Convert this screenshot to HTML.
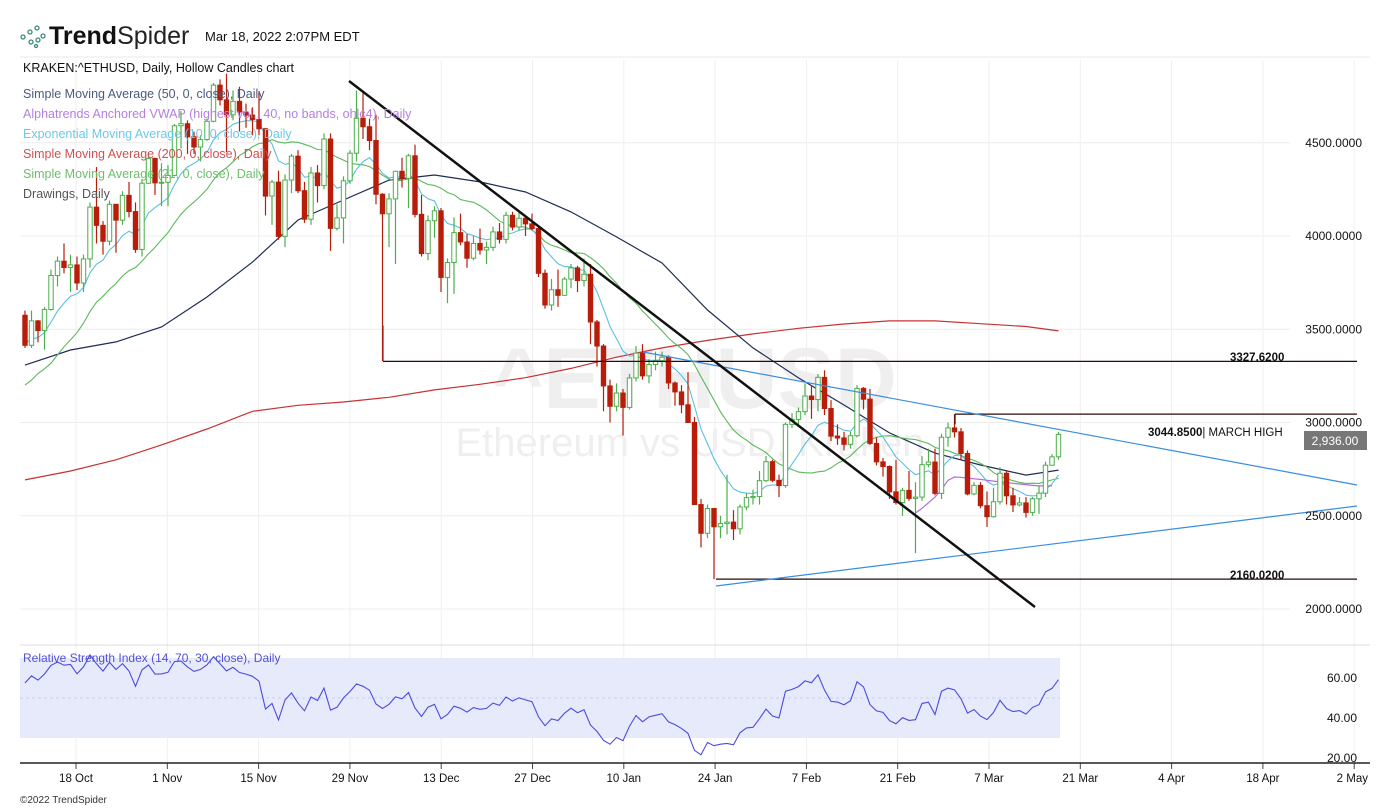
<!DOCTYPE html>
<html><head><meta charset="utf-8"><style>
body{margin:0;background:#fff;}
svg{display:block;font-family:"Liberation Sans",sans-serif;}
</style></head><body>
<svg id="chart" width="1387" height="809" viewBox="0 0 1387 809">
<g id="grid"></g>
<g>
<text x="695" y="408" font-size="86" font-weight="bold" fill="#efefef" text-anchor="middle">^ETHUSD</text>
<text x="690" y="456" font-size="40" fill="#efefef" text-anchor="middle">Ethereum vs USD, Kraken</text>
</g>
<g id="marks"></g>
<g id="draw"></g>
<g id="rsi"></g>
<g id="axes"></g>
<g>
<g fill="none" stroke="#3a8a7a" stroke-width="1.3">
<circle cx="23" cy="37" r="2"/><circle cx="30" cy="32" r="2"/><circle cx="37" cy="28" r="2"/><circle cx="31" cy="42" r="2"/><circle cx="38" cy="40" r="2"/><circle cx="43" cy="36" r="2"/><circle cx="36" cy="46" r="1.5"/>
</g>
<text x="49" y="44" font-size="25" fill="#111"><tspan font-weight="bold">Trend</tspan><tspan fill="#222">Spider</tspan></text>
<text x="205" y="41" font-size="13" fill="#111">Mar 18, 2022 2:07PM EDT</text>
<line x1="20" y1="57" x2="1370" y2="57" stroke="#eaeaea"/>
<text x="23" y="72" font-size="12.5" fill="#111">KRAKEN:^ETHUSD, Daily, Hollow Candles chart</text>
<text x="23" y="98" font-size="12.5" fill="#4a5a80">Simple Moving Average (50, 0, close), Daily</text>
<text x="23" y="118" font-size="12.5" fill="#b47fe0">Alphatrends Anchored VWAP (highest vol., 40, no bands, ohlc4), Daily</text>
<text x="23" y="138" font-size="12.5" fill="#6cc8e8">Exponential Moving Average (10, 0, close), Daily</text>
<text x="23" y="158" font-size="12.5" fill="#d05050">Simple Moving Average (200, 0, close), Daily</text>
<text x="23" y="178" font-size="12.5" fill="#6cbf6c">Simple Moving Average (21, 0, close), Daily</text>
<text x="23" y="198" font-size="12.5" fill="#555">Drawings, Daily</text>
</g>
<text x="20" y="803" font-size="10" fill="#333">©2022 TrendSpider</text>
</svg>
<script>
const warmupCloses=[2977,2750,3077,3155,2930,2925,3063,2934,2806,2850,3001,3308,3391,3419,3384,3517,3580,3588,3562,3575];
const closes=[3414,3545,3493,3606,3788,3865,3831,3845,3748,3877,4155,4057,3972,4170,4085,4218,4131,3928,4283,4416,4285,4288,
4325,4591,4602,4532,4477,4517,4615,4809,4730,4650,4722,4665,4648,4625,4575,4214,4289,3998,4300,4428,4243,4090,4338,4270,4520,4041,4097,4296,4444,4631,
4586,4512,4224,4119,4199,4347,4309,4430,4116,3906,4082,4135,3778,3858,4018,3968,3881,3960,3925,3939,4022,3982,4111,4048,4095,4065,4040,3800,3630,3712,3682,
3769,3829,3761,3795,3539,3410,3196,3087,3158,3081,3239,3372,3250,3311,3331,3350,3212,3164,3095,3000,2560,2406,2539,2441,2458,2466,2430,2547,2597,2603,2688,
2790,2690,2662,2990,3017,3058,3142,3123,3242,3075,2927,2917,2883,2929,3183,3125,2888,2789,2764,2628,2571,2636,2593,2600,2774,2788,2620,2921,
2971,2950,2834,2617,2663,2554,2495,2575,2728,2607,2558,2569,2518,2591,2621,2771,2816,2936];
const highs=[3600,3600,3550,3620,3820,3890,3960,3900,3890,3900,4180,4370,4080,4190,4170,4240,4290,4180,4300,4450,4420,4390,
4380,4600,4670,4620,4560,4540,4630,4820,4840,4870,4780,4800,4710,4690,4770,4580,4300,4350,4330,4440,4460,4290,4370,4380,4550,4550,4170,4320,4460,4780,
4780,4630,4650,4230,4230,4350,4420,4440,4490,4220,4110,4160,4150,3880,4100,4120,4010,4000,4040,3970,4050,4070,4130,4130,4140,4110,4120,4050,3820,3770,3820,
3780,3850,3840,3880,3850,3550,3420,3230,3210,3180,3260,3410,3420,3340,3380,3380,3360,3220,3200,3270,3030,2590,2560,2500,2500,2720,2530,2560,2620,2640,2740,
2820,2800,2720,3000,3050,3080,3210,3200,3260,3280,3120,2990,2950,2950,3200,3190,3180,2920,2810,2770,2800,2650,2740,2680,2820,2860,2860,2940,
3000,3045,2970,2850,2680,2680,2630,2650,2760,2740,2650,2600,2600,2600,2660,2790,2830,2950];
const lows=[3400,3400,3430,3390,3600,3730,3800,3700,3710,3700,3830,3960,3900,3950,3910,4060,4100,3910,3890,4280,4220,4160,
4160,4320,4470,4440,4440,4400,4510,4610,4700,4450,4620,4560,4580,4540,4540,4110,4060,3980,3940,4230,4230,4070,4060,4180,4250,3920,4030,3960,4280,4400,
4520,4460,4170,3330,3940,3850,4260,4150,4100,3890,3870,3990,3700,3640,3690,3950,3830,3870,3900,3850,3920,3960,3960,4030,4030,4000,4030,3780,3610,3600,3620,
3680,3720,3700,3730,3420,3300,3060,3000,3060,2930,3070,3220,3230,3210,3280,3300,3180,3090,3050,3000,2560,2330,2380,2160,2380,2400,2370,2400,2530,2560,2560,
2680,2680,2600,2650,2970,2990,3040,3020,3060,3040,2900,2880,2850,2860,2920,3070,2880,2770,2710,2590,2560,2500,2580,2300,2580,2760,2610,2590,
2870,2920,2800,2610,2610,2540,2440,2490,2560,2560,2520,2550,2490,2500,2510,2600,2770,2800];
const sma50Weekly=[3308,3389,3432,3512,3673,3860,4086,4193,4300,4327,4290,4236,4129,3995,3855,3603,3400,3239,3094,2944,2836,2772,2718];
const sma50Last=2745;
const sma200Weekly=[2692,2740,2800,2880,2965,3060,3092,3110,3135,3175,3205,3240,3290,3350,3400,3440,3475,3505,3528,3545,3545,3530,3515];
const sma200Last=3491;
const vwapStart=137;
const vwapValues=[2515,2540,2570,2600,2640,2690,2708,2706,2702,2698,2695,2690,2686,2682,2678,2674,2670,2667,2663,2660,2660,2660];
const priceTicks=[2000,2500,3000,3500,4000,4500];
const rsiTicks=[20,40,60];
const dateLabels=["18 Oct","1 Nov","15 Nov","29 Nov","13 Dec","27 Dec","10 Jan","24 Jan","7 Feb","21 Feb","7 Mar","21 Mar","4 Apr","18 Apr","2 May"];

const NS="http://www.w3.org/2000/svg";
function X(i){return 77+(i-8)*6.5;}
function Y(p){return 609-(p-2000)*0.1865;}
function RY(v){return 758-(v-20)*2;}
function mk(tag,attrs,parent){const e=document.createElementNS(NS,tag);for(const k in attrs)e.setAttribute(k,attrs[k]);parent.appendChild(e);return e;}
const grid=document.getElementById('grid'),marks=document.getElementById('marks'),draw=document.getElementById('draw'),rsiG=document.getElementById('rsi'),axes=document.getElementById('axes');

priceTicks.forEach(p=>{const l=mk('line',{x1:20,x2:1290,y1:Y(p),y2:Y(p),stroke:'#ececec'},grid);


const t=mk('text',{x:1362,y:Y(p)+4,'font-size':12,fill:'#111','text-anchor':'end'},axes);t.textContent=p.toFixed(4);

});
dateLabels.forEach((d,k)=>{const x=76+k*91.3;const last=k==dateLabels.length-1;const l=mk('line',{x1:x,x2:x,y1:60,y2:762,stroke:'#efefef'},grid);


mk('line',{x1:x,x2:x,y1:763,y2:769,stroke:'#444'},axes);
const t=mk('text',{x:last?1368:x,y:782,'font-size':11.5,fill:'#111','text-anchor':last?'end':'middle'},axes);t.textContent=d;

});
mk('line',{x1:20,x2:1370,y1:645,y2:645,stroke:'#ddd'},axes);
mk('line',{x1:20,x2:1370,y1:763,y2:763,stroke:'#222','stroke-width':1.5},axes);

function poly(pts,color,w,name,parent){const p=mk('polyline',{points:pts.map(a=>a[0].toFixed(1)+','+a[1].toFixed(1)).join(' '),fill:'none',stroke:color,'stroke-width':w},parent||marks);

return p;}
const all=warmupCloses.concat(closes),W=warmupCloses.length;
let pts=sma200Weekly.map((v,k)=>[X(k*7),Y(v)]);pts.push([X(closes.length-1),Y(sma200Last)]);poly(pts,'#c83232',1.2,'sma200-line');
pts=sma50Weekly.map((v,k)=>[X(k*7),Y(v)]);pts.push([X(closes.length-1),Y(sma50Last)]);poly(pts,'#1e2d55',1.2,'sma50-line');
pts=[];for(let i=0;i<closes.length;i++){let s=0;for(let j=i+W-20;j<=i+W;j++)s+=all[j];pts.push([X(i),Y(s/21)]);}poly(pts,'#5cb85c',1.1,'sma21-line');
let e=all[0];const a=2/11;pts=[];all.forEach((c,j)=>{e=c*a+e*(1-a);if(j>=W)pts.push([X(j-W),Y(e)]);});poly(pts,'#5bc0e0',1.1,'ema10-line');
pts=vwapValues.map((v,k)=>[X(vwapStart+k),Y(v)]);poly(pts,'#b06ae0',1.2,'vwap-line');

closes.forEach((c,i)=>{const o=i==0?warmupCloses[W-1]:closes[i-1];const up=c>=o;const col=up?'#4cae4c':'#b81d0a';const x=X(i);
const g=mk('g',{},marks);


mk('line',{x1:x,x2:x,y1:Y(highs[i]),y2:Y(lows[i]),stroke:col,'stroke-width':1.2},g);
const top=Y(Math.max(o,c)),bot=Y(Math.min(o,c));
mk('rect',{x:x-2.2,y:top,width:4.4,height:Math.max(1,bot-top),fill:up?'#fff':col,stroke:col,'stroke-width':1},g);});

function ln(x1,y1,x2,y2,col,w,name){const l=mk('line',{x1,y1,x2,y2,stroke:col,'stroke-width':w},draw);

}
ln(383,Y(3327.62),1357,Y(3327.62),'#2a0a0a',1.2,'level-3327');
ln(955,Y(3044.85),1357,Y(3044.85),'#2a0a0a',1.2,'level-march-high');
ln(955,Y(3044.85),955,Y(2990),'#2a0a0a',1.2,'march-high-tick');
ln(383,Y(3327.62),383,Y(3520),'#9a1a1a',1.2,'anchor-3327');
ln(716,Y(2160.02),1357,Y(2160.02),'#2a0a0a',1.2,'level-2160');
ln(643,352,1357,485,'#3a8ee0',1.2,'upper-trendline');
ln(716,586,1357,506,'#3a8ee0',1.2,'lower-trendline');
ln(349,81,1035,607,'#111',2.5,'downtrend-line');
function lbl(x,y,s,name,bold){const t=mk('text',{x,y,'font-size':11.5,fill:'#111','font-weight':bold?'bold':'normal'},draw);t.textContent=s;

return t;}
lbl(1230,361,'3327.6200','label-3327',true);
const mh=lbl(1148,436,'','label-march-high',false);mh.innerHTML='<tspan font-weight="bold">3044.8500</tspan>| MARCH HIGH';
lbl(1230,579,'2160.0200','label-2160',true);
const badge=mk('rect',{x:1304,y:431,width:63,height:19,fill:'#777'},draw);


const bt=mk('text',{x:1335,y:445,'font-size':12,fill:'#fff','text-anchor':'middle'},draw);bt.textContent=closes[closes.length-1].toLocaleString('en-US',{minimumFractionDigits:2});



const band=mk('rect',{x:20,y:RY(70),width:1040,height:RY(30)-RY(70),fill:'#e7eafb'},rsiG);


mk('line',{x1:20,x2:1060,y1:RY(50),y2:RY(50),stroke:'#c9cdf0','stroke-dasharray':'3,3'},rsiG);
rsiTicks.forEach(v=>{const t=mk('text',{x:1357,y:RY(v)+4,'font-size':12,fill:'#111','text-anchor':'end'},rsiG);t.textContent=v.toFixed(2);

});
let ag=0,al=0;pts=[];
for(let j=1;j<all.length;j++){const d=all[j]-all[j-1];const g=Math.max(d,0),l=Math.max(-d,0);
if(j<=14){ag+=g/14;al+=l/14;}else{ag=(ag*13+g)/14;al=(al*13+l)/14;}
if(j>=W){const r=al==0?100:100-100/(1+ag/al);pts.push([X(j-W),RY(r)]);}}
poly(pts,'#4b4be0',1.1,'rsi-line',rsiG);
const rt=mk('text',{x:23,y:662,'font-size':12,fill:'#5050d8'},rsiG);rt.textContent='Relative Strength Index (14, 70, 30, close), Daily';


</script>
</body></html>
